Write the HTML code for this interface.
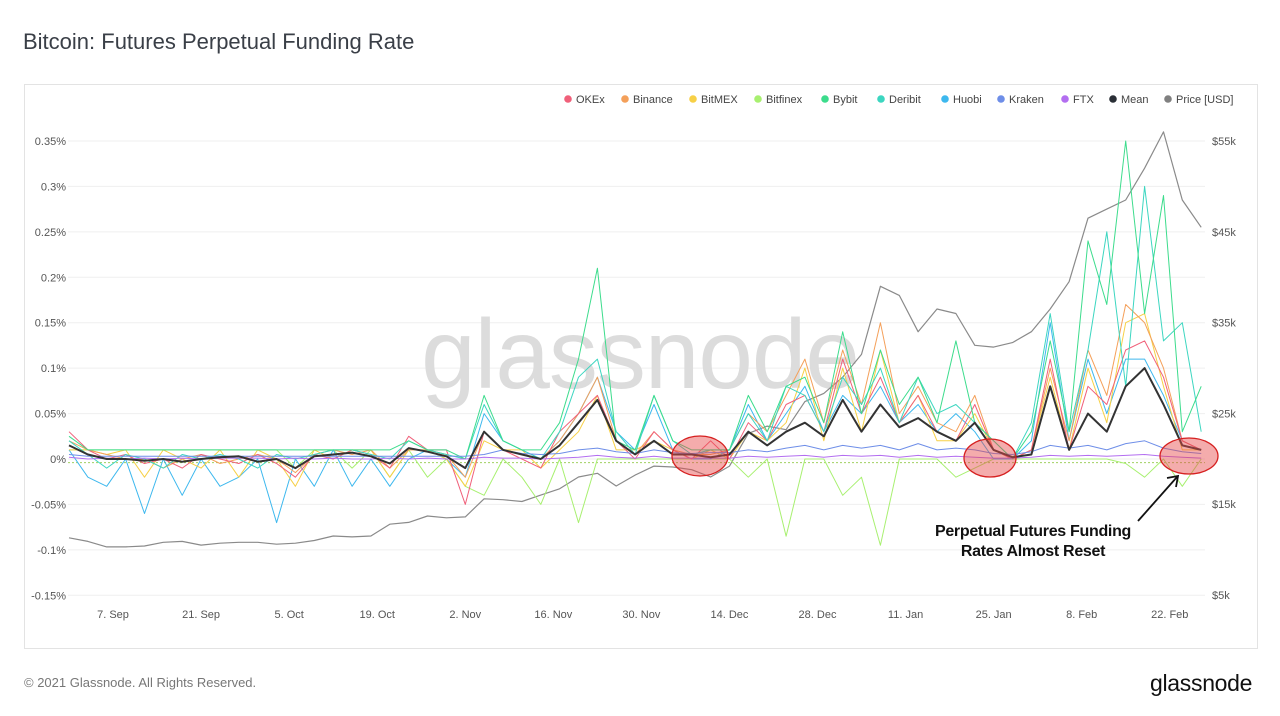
<!DOCTYPE html>
<html><head><meta charset="utf-8">
<style>
body{margin:0;background:#fff;font-family:"Liberation Sans",sans-serif;width:1280px;height:716px;overflow:hidden;position:relative}
#title{position:absolute;left:23px;top:29px;font-size:22px;color:#3a3f47}
#frame{position:absolute;left:24px;top:84px;width:1232px;height:563px;border:1px solid #e3e3e3}
#footer{position:absolute;left:24px;top:675px;font-size:13px;color:#777}
#logo{position:absolute;left:1150px;top:670px;font-size:23px;color:#111;letter-spacing:-0.3px}
svg{position:absolute;left:0;top:0}
</style></head><body>
<div id="title">Bitcoin: Futures Perpetual Funding Rate</div>
<div id="frame"></div>
<div id="footer">© 2021 Glassnode. All Rights Reserved.</div>
<div id="logo">glassnode</div>
<svg id="chart" width="1280" height="716"></svg>
<script>
const xTickLabels=["7. Sep","21. Sep","5. Oct","19. Oct","2. Nov","16. Nov","30. Nov","14. Dec","28. Dec","11. Jan","25. Jan","8. Feb","22. Feb"];
const xTickDays=[7,21,35,49,63,77,91,105,119,133,147,161,175];
const leftTicks=[0.35,0.3,0.25,0.2,0.15,0.1,0.05,0,-0.05,-0.1,-0.15];
const leftTickLabels=["0.35%","0.3%","0.25%","0.2%","0.15%","0.1%","0.05%","0%","-0.05%","-0.1%","-0.15%"];
const rightTicks=[55,45,35,25,15,5];
const rightTickLabels=["$55k","$45k","$35k","$25k","$15k","$5k"];
const price=[11.3,10.9,10.3,10.3,10.4,10.8,10.9,10.5,10.7,10.8,10.8,10.6,10.7,11.0,11.5,11.4,11.5,12.8,13.0,13.7,13.5,13.6,15.6,15.5,15.3,16.0,16.7,18.0,18.4,17.0,18.2,19.2,19.1,18.8,18.0,19.2,22.8,23.6,23.2,26.3,27.2,29.0,31.5,39.0,38.0,34.0,36.5,36.0,32.5,32.3,32.8,34.0,36.5,39.5,46.5,47.5,48.5,52.0,56.0,48.5,45.5];
const mean=[0.015,0.005,0.0,0.0,-0.002,0.0,-0.003,0.0,0.002,0.003,-0.003,0.0,-0.01,0.003,0.005,0.007,0.003,-0.005,0.012,0.008,0.003,-0.01,0.03,0.01,0.005,0.0,0.015,0.04,0.065,0.02,0.005,0.02,0.005,0.005,0.002,0.005,0.03,0.015,0.03,0.04,0.025,0.065,0.03,0.06,0.035,0.045,0.03,0.02,0.04,0.01,0.002,0.005,0.08,0.01,0.05,0.03,0.08,0.1,0.06,0.015,0.01];
const okex=[0.03,0.01,0.0,0.005,-0.005,0.0,-0.01,0.005,0.0,-0.005,0.005,-0.005,-0.02,0.005,0.0,0.01,0.005,-0.01,0.025,0.01,0.01,-0.05,0.03,0.01,0.0,-0.01,0.03,0.05,0.07,0.02,0.0,0.03,0.01,0.0,0.02,0.0,0.04,0.02,0.06,0.07,0.03,0.11,0.05,0.09,0.04,0.07,0.03,0.02,0.06,0.01,0.0,0.01,0.11,0.01,0.08,0.06,0.12,0.13,0.09,0.02,0.01];
const binance=[0.02,0.01,0.005,0.0,0.0,-0.01,0.0,0.005,-0.005,0.0,0.005,0.0,-0.015,0.005,0.01,0.005,0.01,-0.01,0.01,0.01,0.005,-0.02,0.03,0.01,0.005,0.0,0.02,0.05,0.09,0.02,0.005,0.03,0.01,0.005,0.005,0.01,0.05,0.03,0.07,0.11,0.04,0.12,0.06,0.15,0.05,0.08,0.04,0.03,0.07,0.01,0.0,0.01,0.10,0.02,0.12,0.07,0.17,0.15,0.10,0.02,0.01];
const bitmex=[0.01,0.01,0.005,0.01,-0.02,0.01,0.0,-0.01,0.01,-0.02,0.01,0.0,-0.03,0.01,0.0,0.01,0.01,-0.02,0.01,0.01,0.0,-0.03,0.02,0.01,0.01,-0.01,0.01,0.03,0.07,0.01,0.01,0.02,0.01,0.0,0.01,0.0,0.03,0.02,0.04,0.1,0.02,0.1,0.03,0.12,0.04,0.07,0.02,0.02,0.05,0.01,0.0,0.01,0.09,0.01,0.1,0.04,0.15,0.16,0.08,0.01,0.01];
const bitfinex=[0.01,0.01,0.01,0.01,0.01,0.01,0.01,0.01,0.01,0.01,0.01,0.01,-0.01,0.01,0.01,-0.01,0.01,-0.02,0.01,-0.02,0.0,-0.03,-0.04,0.0,-0.02,-0.05,0.0,-0.07,0.0,0.0,0.0,0.0,0.0,0.0,0.0,0.0,-0.02,0.0,-0.085,0.0,0.0,-0.04,-0.02,-0.095,0.0,0.0,0.0,-0.02,-0.01,0.0,0.0,0.0,0.0,0.0,0.0,0.0,-0.005,-0.02,0.0,-0.03,0.0];
const bybit=[0.025,0.01,0.01,0.01,0.01,0.01,0.01,0.01,0.01,0.01,0.01,0.01,0.01,0.01,0.01,0.01,0.01,0.01,0.02,0.01,0.01,0.0,0.07,0.02,0.01,0.01,0.04,0.11,0.21,0.02,0.01,0.07,0.02,0.01,0.01,0.01,0.07,0.03,0.08,0.09,0.04,0.14,0.05,0.12,0.06,0.09,0.04,0.13,0.04,0.02,0.0,0.03,0.13,0.03,0.24,0.17,0.35,0.16,0.29,0.03,0.08];
const deribit=[0.02,0.005,-0.01,0.005,0.0,-0.01,0.005,0.0,0.005,0.0,-0.01,0.005,0.0,0.005,0.01,0.01,0.005,0.0,0.02,0.01,0.005,0.0,0.06,0.02,0.01,0.0,0.03,0.09,0.11,0.03,0.005,0.07,0.02,0.005,0.01,0.01,0.05,0.02,0.08,0.07,0.03,0.09,0.06,0.10,0.04,0.09,0.05,0.06,0.04,0.02,0.0,0.04,0.16,0.03,0.12,0.25,0.08,0.3,0.13,0.15,0.03];
const huobi=[0.01,-0.02,-0.03,0.0,-0.06,0.0,-0.04,0.0,-0.03,-0.02,0.0,-0.07,0.0,-0.03,0.01,-0.03,0.0,-0.03,0.0,0.01,0.0,-0.02,0.05,0.02,0.01,0.0,0.02,0.05,0.09,0.03,0.01,0.06,0.01,0.0,0.0,0.01,0.06,0.02,0.05,0.08,0.03,0.07,0.05,0.08,0.04,0.06,0.03,0.05,0.03,0.0,0.0,0.02,0.15,0.02,0.11,0.05,0.11,0.11,0.07,0.02,0.01];
const kraken=[0.005,0.003,0.003,0.003,0.003,0.003,0.003,0.003,0.003,0.003,0.003,0.003,0.003,0.003,0.003,0.003,0.003,0.003,0.003,0.003,0.003,0.003,0.005,0.01,0.006,0.005,0.006,0.01,0.012,0.008,0.006,0.01,0.007,0.006,0.007,0.007,0.01,0.008,0.012,0.015,0.01,0.015,0.012,0.015,0.01,0.017,0.01,0.012,0.01,0.006,0.005,0.008,0.015,0.012,0.015,0.01,0.017,0.02,0.012,0.008,0.006];
const ftx=[0.002,0.0,0.001,0.0,0.001,0.0,0.001,0.0,0.001,0.001,0.001,0.0,0.001,0.0,0.001,0.0,0.0,0.001,0.0,0.001,0.0,0.0,0.002,0.001,0.001,0.0,0.001,0.002,0.004,0.002,0.001,0.003,0.001,0.001,0.001,0.001,0.003,0.002,0.003,0.004,0.002,0.004,0.003,0.004,0.002,0.004,0.002,0.003,0.002,0.001,0.001,0.002,0.004,0.003,0.004,0.003,0.004,0.005,0.003,0.002,0.001];
const legendNames=["OKEx","Binance","BitMEX","Bitfinex","Bybit","Deribit","Huobi","Kraken","FTX","Mean","Price [USD]"];

const NS="http://www.w3.org/2000/svg";
const svg=document.getElementById('chart');
const STEP=3;
const x=d=>69+d*6.29;
const yL=v=>459-v*908.6;
const yR=p=>595-(p-5)*9.08;
function mk(tag,attrs,parent){const e=document.createElementNS(NS,tag);for(const k in attrs)e.setAttribute(k,attrs[k]);(parent||svg).appendChild(e);return e;}

leftTicks.forEach((t,i)=>{
  const g=mk('line',{x1:68,x2:1205,y1:yL(t),y2:yL(t),stroke:'#efefef','stroke-width':1});
  
  
  const tx=mk('text',{x:66,y:yL(t)+4,'text-anchor':'end','font-size':11,fill:'#555'});
  tx.textContent=leftTickLabels[i];
  
  
});
rightTicks.forEach((t,i)=>{
  const tx=mk('text',{x:1212,y:yR(t)+4,'font-size':11,fill:'#555'});
  tx.textContent=rightTickLabels[i];
  
  
});
xTickDays.forEach((d,i)=>{
  const tx=mk('text',{x:x(d),y:618,'text-anchor':'middle','font-size':11,fill:'#555'});
  tx.textContent=xTickLabels[i];
  
  
});
const wm=mk('text',{x:640,y:388,'text-anchor':'middle','font-size':98,fill:'#dcdcdc','letter-spacing':'-1'});
wm.textContent='glassnode';


const zl=mk('line',{x1:68,x2:1205,y1:yL(-0.004),y2:yL(-0.004),stroke:'#a0d060','stroke-width':1,'stroke-dasharray':'2,2'});



function series(arr,color,w,yf,name){
  const pts=arr.map((v,i)=>x(i*STEP).toFixed(1)+','+yf(v).toFixed(1)).join(' ');
  const p=mk('polyline',{points:pts,fill:'none',stroke:color,'stroke-width':w,'stroke-linejoin':'round'});
  
  
}
series(price,'#8a8a8a',1.2,yR,'price-line');
series(bitfinex,'#a8f070',1,yL,'bitfinex-line');
series(huobi,'#3db8ee',1,yL,'huobi-line');
series(bitmex,'#f7d046',1,yL,'bitmex-line');
series(binance,'#f4a05a',1,yL,'binance-line');
series(okex,'#f0607a',1,yL,'okex-line');
series(deribit,'#3cd6c0',1,yL,'deribit-line');
series(bybit,'#3cdc8c',1,yL,'bybit-line');
series(kraken,'#6e8ee8',1,yL,'kraken-line');
series(ftx,'#b36ef0',1,yL,'ftx-line');
series(mean,'#333',2,yL,'mean-line');

[[700,456,28,20],[990,458,26,19],[1189,456,29,18]].forEach(c=>{
  const e=mk('ellipse',{cx:c[0],cy:c[1],rx:c[2],ry:c[3],fill:'rgba(230,70,70,0.45)',stroke:'#d62020','stroke-width':1.3});
  
  
});
const ar=mk('line',{x1:1138,y1:521,x2:1177,y2:477,stroke:'#111','stroke-width':1.8});


const ah=mk('polyline',{points:'1167,478 1178,476 1176,487',fill:'none',stroke:'#111','stroke-width':1.8});


['Perpetual Futures Funding','Rates Almost Reset'].forEach((s,i)=>{
  const t=mk('text',{x:1033,y:536+i*20,'text-anchor':'middle','font-size':16,'font-weight':'bold',fill:'#111','letter-spacing':'-0.3'});
  t.textContent=s;
  
  
});

const legColors=['#f0607a','#f4a05a','#f7d046','#a8f070','#3cdc8c','#3cd6c0','#3db8ee','#6e8ee8','#b36ef0','#2a2f36','#808080'];
const legX=[568,625,693,758,825,881,945,1001,1065,1113,1168];
legendNames.forEach((n,i)=>{
  const g=mk('g',{});
  
  
  mk('circle',{cx:legX[i],cy:99,r:3.8,fill:legColors[i]},g);
  const t=mk('text',{x:legX[i]+8,y:103,'font-size':11,fill:'#444'},g);
  t.textContent=n;
});
</script>
</body></html>
